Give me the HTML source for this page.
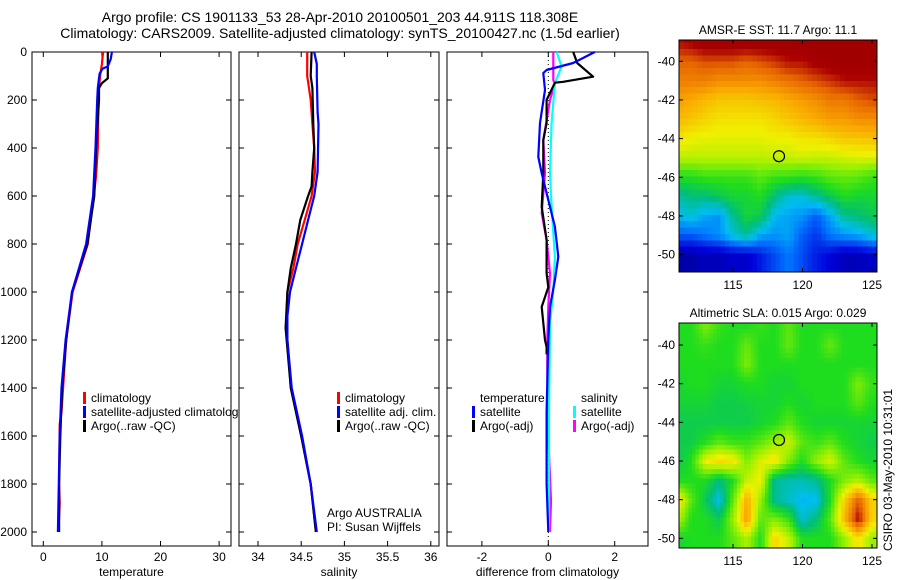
<!DOCTYPE html>
<html><head><meta charset="utf-8"><style>
body{margin:0;background:#fff;}
svg{display:block;font-family:"Liberation Sans",sans-serif;}
text{font-size:12px;fill:#000;}
</style></head><body>
<svg id="fig" width="900" height="580" viewBox="0 0 900 580">
<text x="340" y="22" text-anchor="middle" style="font-size:14px">Argo profile: CS 1901133_53 28-Apr-2010 20100501_203 44.911S 118.308E</text>
<text x="340" y="38" text-anchor="middle" style="font-size:14px">Climatology: CARS2009. Satellite-adjusted climatology: synTS_20100427.nc (1.5d earlier)</text>
<g id="g"></g>
<text transform="translate(892,470) rotate(-90)" text-anchor="middle">CSIRO 03-May-2010 10:31:01</text>
</svg>
<script>
// ---- profile data ----
const tDepthArgo = [0,110,130,150,200,400,600,800,1000,1200,1400,1600,1800,2000];
const tArgo      = [11.0,11.0,10.0,9.5,9.5,9.0,8.7,7.5,4.9,3.9,3.2,2.9,2.7,2.7];
const tDepthClim = [0,50,100,150,200,400,520,600,800,1000,1200,1500,1550,1800,1880,2000];
const tClim      = [10.2,10.0,9.7,9.5,9.4,9.3,9.0,8.6,7.6,5.0,3.9,3.1,2.8,2.7,2.8,2.6];
const tDepthSat  = [0,30,60,70,90,150,200,400,600,800,1000,1200,1400,1600,2000];
const tSat       = [11.7,11.5,11.0,10.1,9.6,9.3,9.2,8.9,8.5,7.3,4.9,3.8,3.1,2.8,2.5];
const sDepthArgo = [0,100,150,300,400,500,560,600,700,800,900,1000,1150,1400,1600,1800,2000];
const sArgo      = [34.62,34.61,34.63,34.64,34.65,34.63,34.62,34.58,34.49,34.44,34.38,34.34,34.32,34.38,34.50,34.61,34.67];
const sDepthClim = [0,100,150,200,300,400,500,600,700,800,900,1000,1100,1200,1400,1600,1800,2000];
const sClim      = [34.57,34.57,34.59,34.61,34.63,34.65,34.66,34.62,34.54,34.46,34.41,34.34,34.33,34.34,34.38,34.50,34.61,34.67];
const sDepthSat  = [0,50,100,250,300,500,600,700,800,900,1000,1100,1200,1400,1600,1800,2000];
const sSat       = [34.65,34.68,34.68,34.69,34.70,34.69,34.65,34.58,34.51,34.44,34.37,34.34,34.34,34.39,34.51,34.61,34.68];
const dDepthTA = [0,46,103,124,128,200,296,367,505,645,783,922,980,1062,1200,1229,1260];
const dTempArgo= [0.75,0.87,1.35,0.45,0.2,-0.05,-0.05,-0.15,-0.15,-0.2,-0.05,-0.05,0,-0.2,-0.1,-0.05,-0.05];
const dDepthTS = [0,46,75,88,158,296,437,505,588,645,728,853,950,1062,1200,1500,1800,2000];
const dTempSat = [1.4,0.75,-0.05,-0.15,-0.1,-0.25,-0.3,-0.2,-0.05,0.05,0.2,0.3,0.2,0.05,0,-0.05,-0.05,0];
const dDepthSS = [0,60,130,296,505,645,853,992,1131,1500,2000];
const dSalSat  = [0.25,0.4,0.2,0.1,0.05,0.1,0.2,0.15,0.05,0.02,0.02];
const dDepthSA = [0,117,130,200,367,505,672,783,922,1062,1200,1330,1600,1870,2000];
const dSalArgo = [0.15,0.15,0.2,0.05,-0.15,-0.1,-0.2,-0.05,0.05,0,-0.03,-0.03,0,0.08,0.05];
// ---- tick labels ----
const depthTicks = [0,200,400,600,800,1000,1200,1400,1600,1800,2000];
const tempTicks = [0,10,20,30];
const salTicks = [34,34.5,35,35.5,36];
const salTickLabels = ["34","34.5","35","35.5","36"];
const diffTicks = [-2,0,2];
const latTicks = [-40,-42,-44,-46,-48,-50];
const lonTicks = [115,120,125];
// ---- map grids (colour index 0..1, rows lat -39..-50, cols lon 111..125) ----
const gridLats = [-39,-40,-41,-42,-43,-44,-45,-46,-47,-48,-49,-50];
const gridLons = [111,112,113,114,115,116,117,118,119,120,121,122,123,124,125];
const sstGrid = [
[0.95,0.97,1,1,1,1,1,1,1,1,1,1,1,1,1],
[0.88,0.88,0.9,0.9,0.9,0.88,0.9,0.92,0.95,0.95,0.98,1,1,1,1],
[0.84,0.84,0.84,0.82,0.82,0.82,0.82,0.84,0.86,0.88,0.9,0.92,0.95,0.95,0.95],
[0.8,0.78,0.76,0.74,0.74,0.74,0.75,0.76,0.78,0.8,0.82,0.85,0.85,0.88,0.9],
[0.76,0.74,0.72,0.7,0.7,0.7,0.7,0.72,0.74,0.76,0.78,0.8,0.8,0.82,0.82],
[0.7,0.68,0.67,0.67,0.67,0.67,0.67,0.68,0.68,0.7,0.7,0.72,0.74,0.74,0.75],
[0.63,0.63,0.63,0.63,0.63,0.63,0.63,0.64,0.64,0.65,0.64,0.64,0.65,0.66,0.66],
[0.5,0.5,0.52,0.52,0.52,0.52,0.55,0.52,0.52,0.5,0.52,0.55,0.56,0.55,0.52],
[0.38,0.42,0.42,0.45,0.48,0.48,0.5,0.42,0.35,0.35,0.4,0.45,0.5,0.48,0.48],
[0.32,0.35,0.3,0.28,0.4,0.48,0.45,0.32,0.3,0.28,0.22,0.3,0.4,0.42,0.45],
[0.22,0.22,0.25,0.28,0.35,0.4,0.3,0.28,0.3,0.22,0.18,0.25,0.28,0.3,0.35],
[0.06,0.06,0.08,0.08,0.1,0.1,0.15,0.2,0.25,0.2,0.15,0.12,0.08,0.08,0.1]];
const slaGrid = [
[0.5,0.5,0.58,0.52,0.5,0.5,0.52,0.5,0.55,0.5,0.5,0.5,0.5,0.5,0.5],
[0.5,0.5,0.52,0.5,0.5,0.56,0.5,0.5,0.56,0.5,0.5,0.56,0.5,0.5,0.5],
[0.5,0.5,0.5,0.5,0.5,0.58,0.5,0.5,0.5,0.5,0.5,0.5,0.5,0.5,0.5],
[0.48,0.5,0.5,0.48,0.48,0.5,0.5,0.48,0.48,0.5,0.5,0.5,0.5,0.58,0.52],
[0.48,0.48,0.48,0.46,0.46,0.47,0.48,0.48,0.5,0.48,0.5,0.5,0.5,0.55,0.5],
[0.46,0.46,0.46,0.46,0.46,0.46,0.48,0.5,0.55,0.5,0.48,0.48,0.48,0.48,0.48],
[0.46,0.46,0.5,0.55,0.52,0.52,0.55,0.6,0.64,0.55,0.52,0.55,0.5,0.48,0.46],
[0.45,0.5,0.68,0.72,0.7,0.58,0.66,0.7,0.58,0.5,0.6,0.66,0.55,0.5,0.48],
[0.5,0.5,0.5,0.42,0.5,0.64,0.68,0.4,0.38,0.38,0.4,0.5,0.58,0.62,0.55],
[0.72,0.55,0.45,0.33,0.55,0.78,0.6,0.4,0.36,0.32,0.33,0.5,0.72,0.88,0.72],
[0.64,0.5,0.5,0.45,0.6,0.8,0.55,0.58,0.52,0.35,0.42,0.55,0.76,0.96,0.72],
[0.48,0.5,0.5,0.5,0.55,0.62,0.5,0.72,0.64,0.5,0.5,0.5,0.6,0.7,0.6]];
const argoLon = 118.308, argoLat = -44.911;

const NS="http://www.w3.org/2000/svg";
const G=document.getElementById('g');
function mk(tag,attrs,parent){const e=document.createElementNS(NS,tag);for(const k in attrs)e.setAttribute(k,attrs[k]);(parent||G).appendChild(e);return e;}
const yTop=52, yBot=546;
const yD = d => 52 + d*0.24;

function drawPanel(name,x0,x1,xs,ticks,labels,title){
  const g=mk('g',{});
  
  
  const r=mk('rect',{x:x0,y:yTop,width:x1-x0,height:yBot-yTop,fill:'#fff',stroke:'#000','stroke-width':1},g);
  
  
  depthTicks.forEach(d=>{
    const y=yD(d);
    mk('line',{x1:x0,x2:x0+5,y1:y,y2:y,stroke:'#000'},g);
    mk('line',{x1:x1-5,x2:x1,y1:y,y2:y,stroke:'#000'},g);
  });
  ticks.forEach((v,i)=>{
    const x=xs(v);
    mk('line',{x1:x,x2:x,y1:yTop,y2:yTop+5,stroke:'#000'},g);
    mk('line',{x1:x,x2:x,y1:yBot-5,y2:yBot,stroke:'#000'},g);
    const t=mk('text',{x:x,y:561,'text-anchor':'middle'},g);t.textContent=labels[i];
    
    
  });
  const tt=mk('text',{x:(x0+x1)/2,y:576,'text-anchor':'middle'},g);tt.textContent=title;
  
  
  return g;
}
function line(xs,vals,depths,color,name,w){
  const pts=vals.map((v,i)=>xs(v).toFixed(1)+','+yD(depths[i]).toFixed(1)).join(' ');
  const p=mk('polyline',{points:pts,fill:'none',stroke:color,'stroke-width':w||2.2,'stroke-linejoin':'round'});
  
  
}
function legend(x,y,items){
  items.forEach((it,i)=>{
    if(it[0]) mk('rect',{x:x,y:y+i*14-10,width:3,height:12,fill:it[0]});
    const t=mk('text',{x:x+8,y:y+i*14},G);t.textContent=it[1];
    
    
  });
}
// panel 1 temperature
const xT=v=>43.3+5.86*v;
drawPanel('temperature-panel',32,231,xT,tempTicks,tempTicks.map(String),'temperature');
depthTicks.forEach(d=>{const t=mk('text',{x:27,y:yD(d)+4,'text-anchor':'end'});t.textContent=d;
  
  });
line(xT,tClim,tDepthClim,'#f00','temp-climatology-line');
line(xT,tArgo,tDepthArgo,'#000','temp-argo-line');
line(xT,tSat,tDepthSat,'#00f','temp-satellite-line');
legend(83,402,[['#f00','climatology'],['#00f','satellite-adjusted climatology'],['#000','Argo(..raw -QC)']]);
// panel 2 salinity
const xS=v=>258+86.4*(v-34);
drawPanel('salinity-panel',239,439,xS,salTicks,salTickLabels,'salinity');
line(xS,sClim,sDepthClim,'#f00','sal-climatology-line');
line(xS,sArgo,sDepthArgo,'#000','sal-argo-line');
line(xS,sSat,sDepthSat,'#00f','sal-satellite-line');
legend(337,402,[['#f00','climatology'],['#00f','satellite adj. clim.'],['#000','Argo(..raw -QC)']]);
let t1=mk('text',{x:327,y:517});t1.textContent='Argo AUSTRALIA';


let t2=mk('text',{x:327,y:531});t2.textContent='PI: Susan Wijffels';


// panel 3 differences
const xDf=v=>548.3+33.2*v;
drawPanel('difference-panel',447,648,xDf,diffTicks,diffTicks.map(String),'difference from climatology');
mk('line',{x1:xDf(0),x2:xDf(0),y1:yTop,y2:yBot,stroke:'#000','stroke-dasharray':'1,3'});
line(xDf,dSalArgo,dDepthSA,'#f0f','diff-sal-argo-line');
line(xDf,dSalSat,dDepthSS,'#0ff','diff-sal-satellite-line');
line(xDf,dTempArgo,dDepthTA,'#000','diff-temp-argo-line');
line(xDf,dTempSat,dDepthTS,'#00f','diff-temp-satellite-line');
legend(472,402,[[null,'temperature'],['#00f','satellite'],['#000','Argo(-adj)']]);
legend(573,402,[[null,'salinity'],['#0ff','satellite'],['#f0f','Argo(-adj)']]);

// ---- maps ----
const stops=[[0,[0,0,120]],[0.12,[0,0,220]],[0.25,[0,120,255]],[0.33,[0,190,240]],[0.42,[0,190,120]],[0.5,[30,220,30]],[0.6,[150,240,0]],[0.68,[240,240,0]],[0.78,[250,170,0]],[0.88,[230,100,0]],[0.96,[170,0,0]],[1,[160,0,0]]];
function col(v){v=Math.max(0,Math.min(1,v));for(let i=1;i<stops.length;i++){if(v<=stops[i][0]){const a=stops[i-1],b=stops[i],f=(v-a[0])/(b[0]-a[0]);const c=a[1].map((x,k)=>Math.round(x+(b[1][k]-x)*f));return `rgb(${c})`;}}return 'rgb(160,0,0)';}
function sample(grid,lat,lon){
  let fi=(gridLats[0]-lat), fj=(lon-gridLons[0]);
  fi=Math.max(0,Math.min(gridLats.length-1,fi)); fj=Math.max(0,Math.min(gridLons.length-1,fj));
  const i0=Math.min(Math.floor(fi),gridLats.length-2), j0=Math.min(Math.floor(fj),gridLons.length-2);
  const a=fi-i0,b=fj-j0;
  return grid[i0][j0]*(1-a)*(1-b)+grid[i0][j0+1]*(1-a)*b+grid[i0+1][j0]*a*(1-b)+grid[i0+1][j0+1]*a*b;
}
function drawMap(name,top,bot,latTop,latBot,grid,title,step){
  const x0=679,x1=877;
  const xL=lon=>733+(lon-115)*13.9;
  const yL=lat=>top+(latTop-lat)*(bot-top)/(latTop-latBot);
  const g=mk('g',{});
  
  
  const cid='clip-'+name;
  const cp=mk('clipPath',{id:cid},g);mk('rect',{x:x0,y:top,width:x1-x0,height:bot-top},cp);
  const cg=mk('g',{'clip-path':`url(#${cid})`,'shape-rendering':'crispEdges'},g);
  for(let lat=latTop+0.2; lat>latBot-step; lat-=step){
    for(let lon=110.8; lon<125.8; lon+=step){
      const v=sample(grid,lat-step/2,lon+step/2);
      const xa=xL(lon),ya=yL(lat);
      const c=mk('rect',{x:xa.toFixed(1),y:ya.toFixed(1),width:(step*13.9+0.6).toFixed(1),height:((yL(lat-step)-ya)+0.6).toFixed(1),fill:col(v)},cg);
      
      
    }
  }
  const m=mk('circle',{cx:xL(argoLon),cy:yL(argoLat),r:5.5,fill:'none',stroke:'#000','stroke-width':1.2},g);
  
  
  mk('rect',{x:x0,y:top,width:x1-x0,height:bot-top,fill:'none',stroke:'#000'},g);
  latTicks.forEach(l=>{const y=yL(l);mk('line',{x1:x0,x2:x0+4,y1:y,y2:y,stroke:'#000'},g);mk('line',{x1:x1-4,x2:x1,y1:y,y2:y,stroke:'#000'},g);
    const t=mk('text',{x:675,y:y+4,'text-anchor':'end'},g);t.textContent=l;
    
    });
  lonTicks.forEach(l=>{const x=xL(l);mk('line',{x1:x,x2:x,y1:top,y2:top+4,stroke:'#000'},g);mk('line',{x1:x,x2:x,y1:bot-4,y2:bot,stroke:'#000'},g);
    const t=mk('text',{x:x,y:bot+17,'text-anchor':'middle'},g);t.textContent=l;
    
    });
  const tt=mk('text',{x:(x0+x1)/2,y:top-6,'text-anchor':'middle'},g);tt.textContent=title;
  
  
}
drawMap('sst-map',40,272,-38.9,-50.9,sstGrid,'AMSR-E SST: 11.7 Argo: 11.1',0.33);
drawMap('sla-map',323,548,-38.86,-50.5,slaGrid,'Altimetric SLA: 0.015 Argo: 0.029',0.25);
</script>
</body></html>
